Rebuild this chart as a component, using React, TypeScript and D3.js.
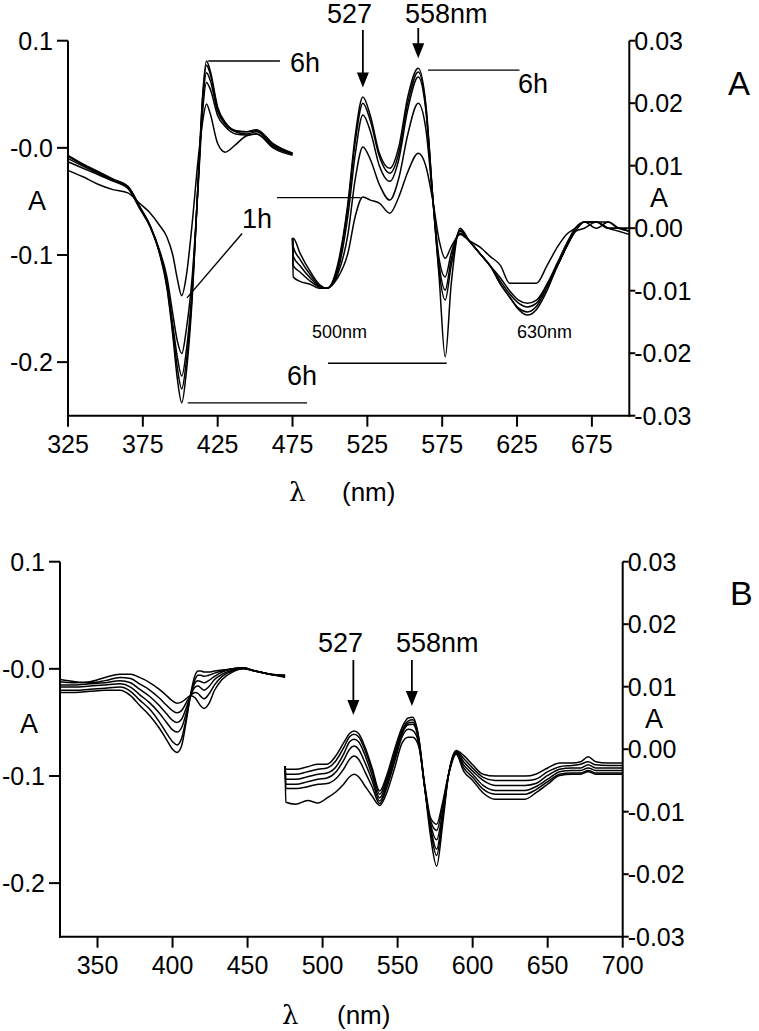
import React from 'react';
import * as d3 from 'd3';

// ---------------- Panel A data ----------------
const A_LEFT_NM = [325, 335, 345, 355, 365, 373, 380, 386, 391, 395, 398, 401, 404, 408, 412, 415, 417.5, 420, 425, 430, 437, 444, 451, 462, 475];
const A_LEFT_6H = [-0.007, -0.015, -0.022, -0.029, -0.036, -0.055, -0.074, -0.098, -0.13, -0.175, -0.215, -0.238, -0.21, -0.14, -0.03, 0.05, 0.081, 0.072, 0.038, 0.024, 0.016, 0.015, 0.017, 0.004, -0.005];
const A_LEFT_C1 = [-0.008, -0.016, -0.023, -0.030, -0.036, -0.055, -0.073, -0.097, -0.128, -0.17, -0.205, -0.225, -0.2, -0.135, -0.03, 0.047, 0.077, 0.069, 0.036, 0.023, 0.016, 0.015, 0.016, 0.003, -0.005];
const A_LEFT_C2 = [-0.010, -0.017, -0.024, -0.030, -0.037, -0.056, -0.073, -0.096, -0.125, -0.165, -0.195, -0.213, -0.19, -0.13, -0.032, 0.042, 0.070, 0.063, 0.034, 0.022, 0.015, 0.013, 0.015, 0.002, -0.006];
const A_LEFT_C3 = [-0.013, -0.019, -0.025, -0.031, -0.038, -0.057, -0.074, -0.095, -0.12, -0.155, -0.18, -0.192, -0.17, -0.12, -0.035, 0.035, 0.061, 0.055, 0.03, 0.02, 0.013, 0.012, 0.013, 0.001, -0.006];
const A_LEFT_1H = [-0.021, -0.027, -0.034, -0.039, -0.042, -0.052, -0.061, -0.072, -0.083, -0.1, -0.122, -0.138, -0.12, -0.07, -0.01, 0.025, 0.041, 0.032, 0.004, -0.004, 0.003, 0.011, 0.013, 0.0, -0.007];

const A_RIGHT_NM = [475, 475.5, 480, 487, 493, 498, 505, 512, 517, 522, 527, 533, 540, 546, 552, 559, 564, 569, 573, 577, 581, 587, 593, 600, 607, 614, 620, 626, 632, 638, 645, 652, 658, 664, 670, 678, 686, 693, 700];
const A_RIGHT_6H = [-0.0016, -0.0016, -0.004, -0.007, -0.009, -0.0096, -0.006, 0.004, 0.015, 0.021, 0.018, 0.012, 0.0096, 0.013, 0.021, 0.0256, 0.020, 0.004, -0.008, -0.0206, -0.009, 0.0, -0.002, -0.004, -0.006, -0.009, -0.011, -0.013, -0.0139, -0.013, -0.010, -0.006, -0.003, 0.0, 0.001, 0.001, 0.001, 0.0, -0.0005];
const A_RIGHT_C1 = [-0.0016, -0.003, -0.005, -0.0075, -0.0092, -0.0096, -0.0065, 0.0035, 0.014, 0.020, 0.0172, 0.0115, 0.0088, 0.012, 0.020, 0.025, 0.0195, 0.004, -0.007, -0.0115, -0.006, -0.0003, -0.002, -0.004, -0.006, -0.009, -0.011, -0.0128, -0.0134, -0.0125, -0.0095, -0.006, -0.003, -0.0005, 0.001, 0.0, 0.001, 0.0, 0.0];
const A_RIGHT_C2 = [-0.0016, -0.0045, -0.006, -0.008, -0.0093, -0.0096, -0.007, 0.002, 0.012, 0.0181, 0.0155, 0.010, 0.0075, 0.011, 0.019, 0.0242, 0.019, 0.004, -0.006, -0.0099, -0.005, -0.0005, -0.002, -0.004, -0.006, -0.0085, -0.0105, -0.012, -0.0126, -0.012, -0.009, -0.0055, -0.0025, 0.0, 0.001, 0.001, 0.0, 0.0, -0.0005];
const A_RIGHT_C3 = [-0.0016, -0.006, -0.007, -0.0085, -0.0094, -0.0096, -0.0075, -0.001, 0.008, 0.013, 0.011, 0.007, 0.0045, 0.008, 0.015, 0.020, 0.016, 0.004, -0.005, -0.0078, -0.004, -0.0008, -0.002, -0.004, -0.006, -0.008, -0.010, -0.0115, -0.012, -0.0115, -0.009, -0.006, -0.003, -0.0005, 0.0, 0.001, 0.0, -0.0005, -0.001];
const A_RIGHT_1H = [-0.0016, -0.0078, -0.0085, -0.009, -0.0096, -0.0096, -0.008, -0.004, 0.002, 0.005, 0.0045, 0.004, 0.0024, 0.005, 0.009, 0.012, 0.010, 0.004, -0.002, -0.0048, -0.003, -0.001, -0.002, -0.003, -0.0045, -0.006, -0.0088, -0.0088, -0.0088, -0.0088, -0.006, -0.003, -0.001, 0.0, 0.001, 0.001, 0.0, 0.0, 0.0];

// ---------------- Panel B data ----------------
const B_LEFT_NM = [325, 335, 345, 355, 365, 372, 378, 385, 391, 396, 400, 403, 406, 409, 412, 415, 417, 419, 421, 424, 428, 433, 440, 447, 455, 465, 475];
const B_LEFT_C0 = [-0.012, -0.013, -0.012, -0.008, -0.005, -0.005, -0.008, -0.013, -0.019, -0.025, -0.030, -0.032, -0.031, -0.028, -0.025, -0.027, -0.031, -0.035, -0.037, -0.033, -0.02, -0.01, -0.003, 0.0, -0.002, -0.005, -0.006];
const B_LEFT_C1 = [-0.010, -0.012, -0.013, -0.011, -0.008, -0.009, -0.014, -0.020, -0.027, -0.034, -0.039, -0.041, -0.039, -0.032, -0.025, -0.022, -0.023, -0.026, -0.028, -0.024, -0.015, -0.007, -0.002, 0.0, -0.002, -0.005, -0.006];
const B_LEFT_C2 = [-0.015, -0.015, -0.014, -0.013, -0.011, -0.013, -0.019, -0.026, -0.034, -0.042, -0.048, -0.050, -0.047, -0.037, -0.025, -0.017, -0.016, -0.018, -0.020, -0.017, -0.010, -0.005, -0.001, 0.001, -0.002, -0.005, -0.007];
const B_LEFT_C3 = [-0.017, -0.017, -0.016, -0.015, -0.014, -0.017, -0.024, -0.032, -0.041, -0.050, -0.057, -0.059, -0.055, -0.042, -0.025, -0.013, -0.011, -0.012, -0.013, -0.011, -0.007, -0.003, 0.0, 0.001, -0.002, -0.005, -0.007];
const B_LEFT_C4 = [-0.020, -0.020, -0.019, -0.018, -0.017, -0.021, -0.029, -0.038, -0.049, -0.060, -0.068, -0.071, -0.065, -0.047, -0.025, -0.010, -0.006, -0.006, -0.007, -0.006, -0.004, -0.002, 0.0, 0.001, -0.002, -0.005, -0.007];
const B_LEFT_C5 = [-0.022, -0.022, -0.021, -0.020, -0.020, -0.025, -0.034, -0.044, -0.055, -0.066, -0.075, -0.078, -0.072, -0.050, -0.024, -0.006, -0.002, -0.002, -0.003, -0.003, -0.002, -0.001, 0.0, 0.001, -0.002, -0.005, -0.008];

const B_RIGHT_NM = [475, 475.5, 482, 490, 497, 503, 509, 514, 518, 521, 524, 528, 533, 538, 543, 548, 553, 557, 560, 564, 568, 572, 576, 580, 584, 589, 594, 600, 607, 615, 625, 635, 642, 650, 658, 666, 672, 677, 682, 690, 700];
const B_RIGHT_C0 = [-0.0027, -0.0032, -0.0032, -0.0028, -0.0024, -0.0024, -0.001, 0.001, 0.0025, 0.0029, 0.0025, 0.0005, -0.003, -0.0067, -0.004, 0.0, 0.0035, 0.005, 0.0051, 0.002, -0.006, -0.014, -0.0187, -0.012, -0.004, -0.0002, -0.001, -0.0025, -0.004, -0.0043, -0.0043, -0.0043, -0.004, -0.003, -0.0022, -0.0022, -0.002, -0.0012, -0.002, -0.0022, -0.0022];
const B_RIGHT_C1 = [-0.0027, -0.004, -0.004, -0.0036, -0.0032, -0.003, -0.0018, 0.0002, 0.002, 0.0024, 0.002, 0.0, -0.0035, -0.0072, -0.0045, -0.0005, 0.003, 0.0045, 0.0047, 0.0018, -0.006, -0.013, -0.017, -0.011, -0.004, -0.0003, -0.0015, -0.003, -0.0045, -0.005, -0.005, -0.005, -0.0048, -0.0036, -0.0028, -0.0026, -0.0024, -0.002, -0.0025, -0.0026, -0.0026];
const B_RIGHT_C2 = [-0.0027, -0.0048, -0.0048, -0.0044, -0.004, -0.0038, -0.0028, -0.0008, 0.0012, 0.0016, 0.0012, -0.0008, -0.0042, -0.0078, -0.005, -0.001, 0.0027, 0.0042, 0.0043, 0.0016, -0.006, -0.0125, -0.016, -0.0105, -0.004, -0.0004, -0.002, -0.0035, -0.005, -0.0058, -0.0058, -0.0058, -0.0055, -0.0042, -0.0032, -0.003, -0.003, -0.0025, -0.003, -0.003, -0.003];
const B_RIGHT_C3 = [-0.0027, -0.0056, -0.0056, -0.0052, -0.0048, -0.0046, -0.0036, -0.0018, 0.0, 0.0005, 0.0, -0.002, -0.005, -0.0083, -0.0055, -0.0015, 0.0025, 0.0039, 0.004, 0.0014, -0.006, -0.012, -0.0145, -0.01, -0.004, -0.0005, -0.0025, -0.004, -0.0058, -0.0066, -0.0066, -0.0066, -0.006, -0.0048, -0.0036, -0.0034, -0.0034, -0.003, -0.0034, -0.0034, -0.0034];
const B_RIGHT_C4 = [-0.0027, -0.0063, -0.0063, -0.006, -0.0056, -0.0055, -0.0047, -0.0032, -0.0016, -0.0011, -0.0016, -0.0035, -0.006, -0.0087, -0.006, -0.002, 0.002, 0.0032, 0.003, 0.001, -0.006, -0.0115, -0.013, -0.009, -0.004, -0.0006, -0.003, -0.0045, -0.0064, -0.0072, -0.0072, -0.0072, -0.0065, -0.0052, -0.004, -0.0038, -0.0038, -0.0034, -0.0038, -0.0038, -0.0038];
const B_RIGHT_C5 = [-0.0027, -0.0085, -0.0088, -0.0082, -0.0086, -0.0078, -0.0068, -0.0056, -0.0044, -0.004, -0.0044, -0.0058, -0.0075, -0.009, -0.0068, -0.003, 0.001, 0.0019, 0.0019, 0.0005, -0.0055, -0.011, -0.012, -0.0085, -0.004, -0.0008, -0.0035, -0.005, -0.007, -0.008, -0.008, -0.008, -0.007, -0.0056, -0.0042, -0.004, -0.004, -0.0036, -0.004, -0.004, -0.004];

// ---------------- Axis ticks ----------------
const A_X_TICKS = [325, 375, 425, 475, 525, 575, 625, 675];
const B_X_TICKS = [350, 400, 450, 500, 550, 600, 650, 700];
const LEFT_Y_TICKS = [0.1, 0, -0.1, -0.2];
const LEFT_Y_LABELS = ['0.1', '-0.0', '-0.1', '-0.2'];
const RIGHT_Y_TICKS = [0.03, 0.02, 0.01, 0, -0.01, -0.02, -0.03];
const RIGHT_Y_LABELS = ['0.03', '0.02', '0.01', '0.00', '-0.01', '-0.02', '-0.03'];

const FONT = "'Liberation Sans', Arial, Helvetica, sans-serif";

type Geo = { x0: number; x1: number; yTop: number; yBot: number };

function makeScales(g: Geo) {
  const x = d3.scaleLinear().domain([325, 700]).range([g.x0, g.x1]);
  const yL = d3.scaleLinear().domain([-0.25, 0.1]).range([g.yBot, g.yTop]);
  const yR = d3.scaleLinear().domain([-0.03, 0.03]).range([g.yBot, g.yTop]);
  return { x, yL, yR };
}

function Curves({ nm, series, x, y }: { nm: number[]; series: number[][]; x: any; y: any }) {
  const line = d3
    .line<number>()
    .x((_, i) => x(nm[i]))
    .y((d) => y(d))
    .curve(d3.curveMonotoneX);
  return (
    <g fill="none" stroke="#000" strokeWidth={1.5} strokeLinejoin="round">
      {series.map((s, k) => (
        <path key={k} d={line(s) || ''} />
      ))}
    </g>
  );
}

function Axes({ g, xTicks, sc }: { g: Geo; xTicks: number[]; sc: any }) {
  const { x, yL, yR } = sc;
  return (
    <g stroke="#000" strokeWidth={2} fontFamily={FONT} fontSize={25}>
      <line x1={g.x0} x2={g.x0} y1={g.yTop} y2={g.yBot + 1} />
      <line x1={g.x1} x2={g.x1} y1={g.yTop} y2={g.yBot + 1} />
      <line x1={g.x0 - 1} x2={g.x1 + 1} y1={g.yBot} y2={g.yBot} />
      {xTicks.map((t) => (
        <g key={'x' + t}>
          <line x1={x(t)} x2={x(t)} y1={g.yBot} y2={g.yBot + 11} />
          <text x={x(t)} y={g.yBot + 37} textAnchor="middle" stroke="none" fill="#000">
            {t}
          </text>
        </g>
      ))}
      {LEFT_Y_TICKS.map((t, i) => (
        <g key={'l' + t}>
          <line x1={g.x0 - 11} x2={g.x0} y1={yL(t)} y2={yL(t)} />
          <text x={g.x0 - 15} y={yL(t) + 9} textAnchor="end" stroke="none" fill="#000">
            {LEFT_Y_LABELS[i]}
          </text>
        </g>
      ))}
      {RIGHT_Y_TICKS.map((t, i) => (
        <g key={'r' + t}>
          <line x1={g.x1} x2={g.x1 + 6} y1={yR(t)} y2={yR(t)} />
          <text x={g.x1 + 5} y={yR(t) + 9} textAnchor="start" stroke="none" fill="#000">
            {RIGHT_Y_LABELS[i]}
          </text>
        </g>
      ))}
    </g>
  );
}

function Arrow({ x, y1, y2 }: { x: number; y1: number; y2: number }) {
  return (
    <g>
      <line x1={x} x2={x} y1={y1} y2={y2 - 12} stroke="#000" strokeWidth={1.8} />
      <path d={`M${x - 6},${y2 - 15} L${x + 6},${y2 - 15} L${x},${y2} Z`} fill="#000" />
    </g>
  );
}

export default function App() {
  const gA: Geo = { x0: 68, x1: 629.3, yTop: 40.7, yBot: 415.7 };
  const gB: Geo = { x0: 60, x1: 622.7, yTop: 561.7, yBot: 936.7 };
  const sA = makeScales(gA);
  const sB = makeScales(gB);

  const aLeft = [A_LEFT_6H, A_LEFT_C1, A_LEFT_C2, A_LEFT_C3, A_LEFT_1H];
  const aRight = [A_RIGHT_6H, A_RIGHT_C1, A_RIGHT_C2, A_RIGHT_C3, A_RIGHT_1H];
  const bLeft = [B_LEFT_C0, B_LEFT_C1, B_LEFT_C2, B_LEFT_C3, B_LEFT_C4, B_LEFT_C5];
  const bRight = [B_RIGHT_C0, B_RIGHT_C1, B_RIGHT_C2, B_RIGHT_C3, B_RIGHT_C4, B_RIGHT_C5];

  const xA = sA.x;
  const xB = sB.x;
  const ann = { fontFamily: FONT, fontSize: 27, fill: '#000' } as const;
  const thin = { stroke: '#000', strokeWidth: 1.4 } as const;

  return (
    <svg
      width={759}
      height={1031}
      viewBox="0 0 759 1031"
      style={{ position: 'absolute', left: 0, top: 0, background: '#fff', display: 'block' }}
    >
      <rect x={0} y={0} width={759} height={1031} fill="#fff" />
      {/* Panel A */}
      <Curves nm={A_LEFT_NM} series={aLeft} x={xA} y={sA.yL} />
      <Curves nm={A_RIGHT_NM} series={aRight} x={xA} y={sA.yR} />
      <Axes g={gA} xTicks={A_X_TICKS} sc={sA} />
      <text x={28} y={210} {...ann} fontSize={27}>A</text>
      <text x={650} y={207} {...ann} fontSize={27}>A</text>
      <text x={728} y={95} {...ann} fontSize={33}>A</text>
      <text x={289} y={501} fontFamily="'DejaVu Serif', serif" fontSize={26} fill="#000">λ</text>
      <text x={342} y={501} {...ann} fontSize={26}>(nm)</text>

      <text x={327} y={23} {...ann}>527</text>
      <text x={405} y={23} {...ann}>558nm</text>
      <Arrow x={xA(522)} y1={30} y2={sA.yR(0.0225)} />
      <Arrow x={xA(559)} y1={28} y2={sA.yR(0.0272)} />

      <line x1={xA(418.7)} x2={xA(466.6)} y1={sA.yL(0.081)} y2={sA.yL(0.081)} {...thin} />
      <text x={290} y={72} {...ann}>6h</text>
      <line x1={xA(565.5)} x2={xA(626.6)} y1={sA.yR(0.0253)} y2={sA.yR(0.0253)} {...thin} />
      <text x={518} y={93} {...ann}>6h</text>

      <text x={242} y={228} {...ann}>1h</text>
      <line x1={xA(441.3)} x2={xA(404.5)} y1={sA.yL(-0.08)} y2={sA.yL(-0.14)} {...thin} />
      <line x1={xA(464.6)} x2={xA(520.5)} y1={sA.yR(0.0049)} y2={sA.yR(0.0049)} {...thin} />

      <line x1={xA(405)} x2={xA(484.7)} y1={sA.yL(-0.238)} y2={sA.yL(-0.238)} {...thin} />
      <line x1={xA(498.7)} x2={xA(578)} y1={sA.yR(-0.0216)} y2={sA.yR(-0.0216)} {...thin} />
      <text x={287} y={385} {...ann}>6h</text>
      <text x={312} y={338} fontFamily={FONT} fontSize={18} fill="#000">500nm</text>
      <text x={517} y={338} fontFamily={FONT} fontSize={18} fill="#000">630nm</text>

      {/* Panel B */}
      <Curves nm={B_LEFT_NM} series={bLeft} x={xB} y={sB.yL} />
      <Curves nm={B_RIGHT_NM} series={bRight} x={xB} y={sB.yR} />
      <Axes g={gB} xTicks={B_X_TICKS} sc={sB} />
      <text x={20} y={733} {...ann} fontSize={27}>A</text>
      <text x={645} y={728} {...ann} fontSize={27}>A</text>
      <text x={730} y={605} {...ann} fontSize={34}>B</text>
      <text x={282} y={1024} fontFamily="'DejaVu Serif', serif" fontSize={26} fill="#000">λ</text>
      <text x={337} y={1024} {...ann} fontSize={26}>(nm)</text>

      <text x={318} y={652} {...ann}>527</text>
      <text x={396} y={652} {...ann}>558nm</text>
      <Arrow x={xB(520.5)} y1={660} y2={715} />
      <Arrow x={xB(559.5)} y1={660} y2={706} />
    </svg>
  );
}
